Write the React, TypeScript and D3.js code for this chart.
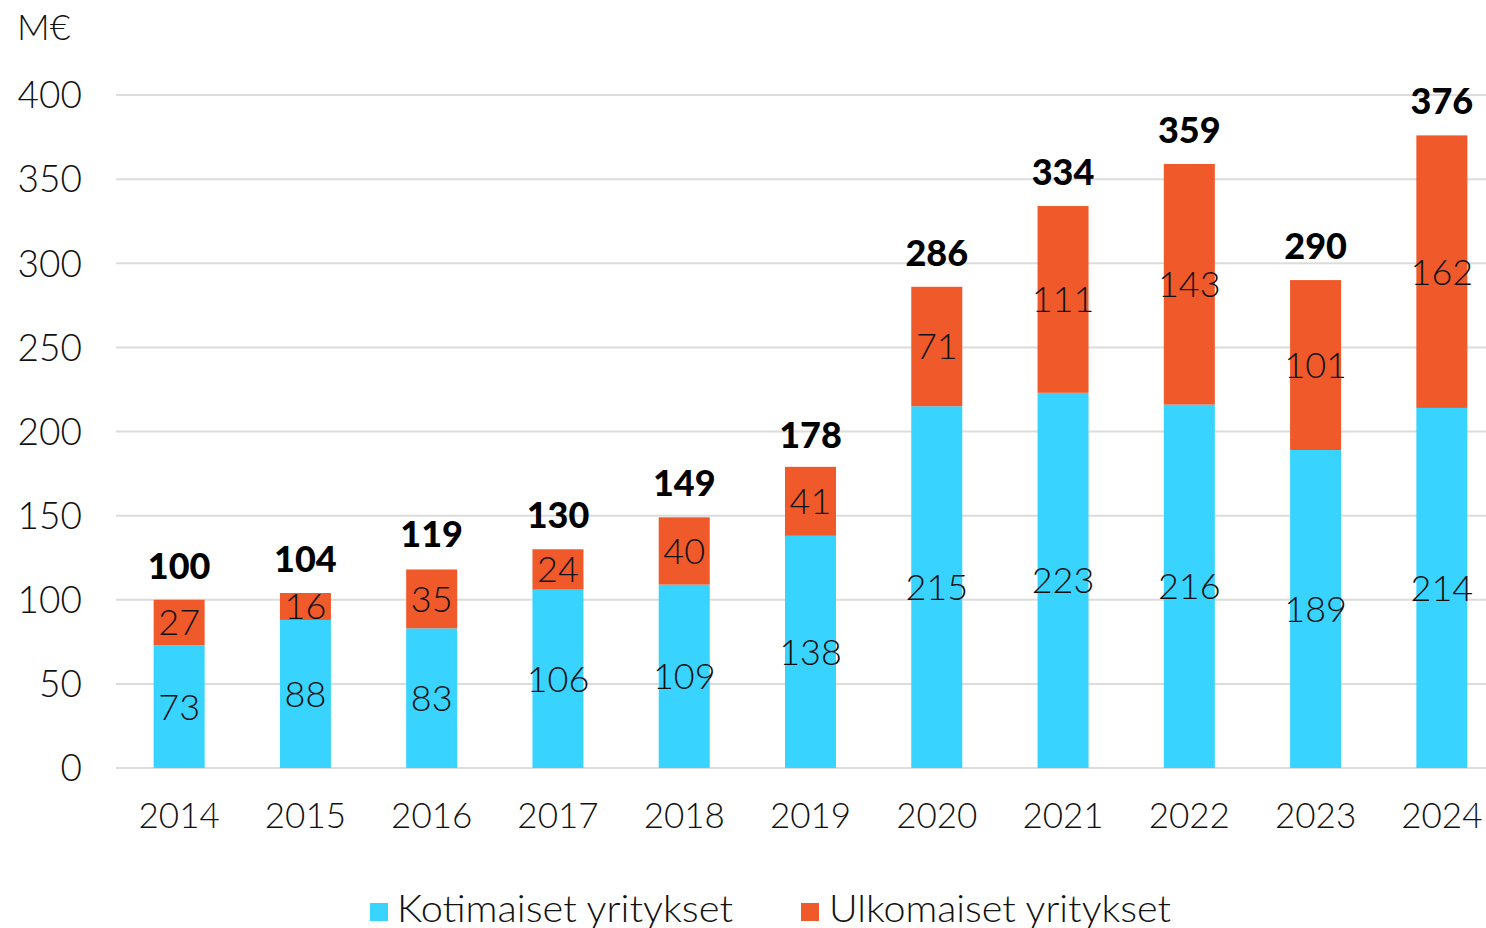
import React from "react";
import * as d3 from "d3";

const years = ["2014","2015","2016","2017","2018","2019","2020","2021","2022","2023","2024"];
const domestic = [73, 88, 83, 106, 109, 138, 215, 223, 216, 189, 214];
const foreign = [27, 16, 35, 24, 40, 41, 71, 111, 143, 101, 162];
const totals = [100, 104, 119, 130, 149, 178, 286, 334, 359, 290, 376];
const yTicks = [0, 50, 100, 150, 200, 250, 300, 350, 400];
const seriesNames = ["Kotimaiset yritykset", "Ulkomaiset yritykset"];

const W = 1486, H = 928;
const BLUE = "#38D4FF";
const ORANGE = "#F05A2A";
const FONT = "Lato, 'Open Sans', sans-serif";

export default function App() {
  const x = d3.scaleBand<string>().domain(years).range([116, 1505]).paddingInner(0.596).paddingOuter(0.298);
  const y = d3.scaleLinear().domain([0, 400]).range([768, 95]);
  const bw = x.bandwidth();
  return (
    <svg width={W} height={H} style={{ position: "absolute", left: 0, top: 0, background: "#fff" }} fontFamily={FONT}>
      <text x={17} y={40} fontSize={36} fill="#111" fontWeight={300}>M€</text>
      {yTicks.map((t) => (
        <g key={t}>
          <line x1={116} x2={1486} y1={y(t)} y2={y(t)} stroke="#dcdcdc" strokeWidth={2} />
          <text x={82} y={y(t)} dy="0.36em" textAnchor="end" fontSize={37} fill="#111" fontWeight={300}>{t}</text>
        </g>
      ))}
      {years.map((yr, i) => {
        const cx = (x(yr) as number) + bw / 2;
        const d = domestic[i], f = foreign[i];
        return (
          <g key={yr}>
            <rect x={x(yr)} width={bw} y={y(d)} height={y(0) - y(d)} fill={BLUE} />
            <rect x={x(yr)} width={bw} y={y(d + f)} height={y(d) - y(d + f)} fill={ORANGE} />
            <text x={cx} y={(y(0) + y(d)) / 2} dy="0.36em" textAnchor="middle" fontSize={36} fill="#111" fontWeight={300}>{d}</text>
            <text x={cx} y={(y(d) + y(d + f)) / 2} dy="0.36em" textAnchor="middle" fontSize={36} fill="#111" fontWeight={300}>{f}</text>
            <text x={cx} y={y(totals[i]) - 21} textAnchor="middle" fontSize={36} fontWeight={900} fill="#000">{totals[i]}</text>
            <text x={cx} y={815} dy="0.36em" textAnchor="middle" fontSize={35} fill="#111" fontWeight={300}>{yr}</text>
          </g>
        );
      })}
      <g>
        <rect x={370} y={903} width={18} height={18} fill={BLUE} />
        <text x={397} y={922} fontSize={37} fill="#111" fontWeight={300} textLength={336} lengthAdjust="spacingAndGlyphs">{seriesNames[0]}</text>
        <rect x={801} y={903} width={18} height={18} fill={ORANGE} />
        <text x={829} y={922} fontSize={37} fill="#111" fontWeight={300} textLength={342} lengthAdjust="spacingAndGlyphs">{seriesNames[1]}</text>
      </g>
    </svg>
  );
}
